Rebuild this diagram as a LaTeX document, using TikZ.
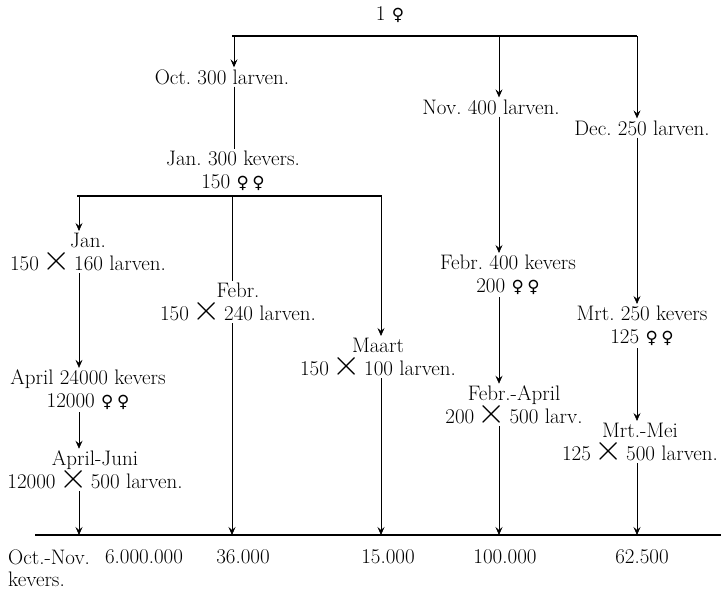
\documentclass[tikz,border=0pt]{standalone}
\usepackage{fontspec}
\newfontfamily\symfont{DejaVu Sans}
\usetikzlibrary{arrows.meta, positioning}
\frenchspacing
\newcommand{\fem}{{\symfont\scalebox{0.8}{♀}}}
\newcommand{\maal}{\,\smash{\scalebox{1.75}{$\times$}}\,}
\tikzset{
x=1pt, y=-1pt, % pixel-like coordinates, y runs downward
>={Stealth[length=8pt,width=7pt,inset=3pt]}, % small barbed heads
lbl/.style={align=center, inner sep=2pt, font=\fontsize{21}{23}\selectfont}, % every text
bar/.style={line width=1.8pt}, % the thick horizontal lines
stem/.style={->, line width=0.6pt}, % thin vertical arrows
plain/.style={line width=0.6pt}, % thin vertical lines without head
}
\begin{document}
\begin{tikzpicture}
    \useasboundingbox (0,0) rectangle (721,592);

    % horizontal bars
    \coordinate (t0) at (232,36);  \coordinate (t1) at (637,36);
    \coordinate (m0) at (77,196);  \coordinate (m1) at (382,196);
    \coordinate (b0) at (35,535);  \coordinate (b1) at (721,535);
    \draw[bar] (t0) -- (t1);
    \draw[bar] (m0) -- (m1);
    \draw[bar] (b0) -- (b1);

    % columns
    \coordinate (ca) at (234,0);
    \coordinate (cb) at (499,0);
    \coordinate (cc) at (637,0);
    \coordinate (cd) at (79,0);
    \coordinate (ce) at (232,0);
    \coordinate (cf) at (381,0);

    \node[lbl] (one) at (390,15) {1 \fem};
    \node[lbl] (oct) at (222,77) {Oct. 300 larven.};
    \node[lbl] (nov) at (491,107) {Nov. 400 larven.};
    \node[lbl] (dec) at (642,128) {Dec. 250 larven.};
    \node[lbl] (jan) at (233,171) {Jan. 300 kevers.\\150 \fem\,\fem};

    \node[lbl] (janl) at (88,252) {Jan.\\150\maal 160 larven.};
    \node[lbl] (apr) at (88,390) {April 24000 kevers\\12000 \fem\,\fem};
    \node[lbl] (aj) at (95,470) {April-Juni\\12000\maal 500 larven.};
    \node[lbl] (feb) at (238,302) {Febr.\\150\maal 240 larven.};
    \node[lbl] (maart) at (378,357) {Maart\\150\maal 100 larven.};
    \node[lbl] (fk) at (508,275) {Febr. 400 kevers\\200 \fem\,\fem};
    \node[lbl] (fa) at (514,405) {Febr.-April\\200\maal 500 larv.};
    \node[lbl] (mk) at (642,326) {Mrt. 250 kevers\\125 \fem\,\fem};
    \node[lbl] (mm) at (640,442) {Mrt.-Mei\\125\maal 500 larven.};

    \node[lbl, anchor=west] (ocnov) at (6,557) {Oct.-Nov.};
    \node[lbl, anchor=west] (kev) at (6,579) {kevers.};
    \node[lbl] (sa) at (144,557) {6.000.000};
    \node[lbl] (sb) at (243,557) {36.000};
    \node[lbl] (sc) at (388,557) {15.000};
    \node[lbl] (sd) at (505,557) {100.000};
    \node[lbl] (se) at (642,557) {62.500};

    % first generation
    \draw[stem] (ca |- t0) -- (ca |- oct.north);
    \draw[plain] (ca |- oct.south) -- (ca |- jan.north);
    \draw[stem] (cb |- t0) -- (cb |- nov.north);
    \draw[stem] (cb |- nov.south) -- (cb |- fk.north);
    \draw[stem] (cb |- fk.south) -- (cb |- fa.north);
    \draw[stem] (cb |- fa.south) -- (cb |- b0);
    \draw[stem] (cc |- t0) -- (cc |- dec.north);
    \draw[stem] (cc |- dec.south) -- (cc |- mk.north);
    \draw[stem] (cc |- mk.south) -- (cc |- mm.north);
    \draw[stem] (cc |- mm.south) -- (cc |- b0);

    % second generation
    \draw[stem] (cd |- m0) -- (cd |- janl.north);
    \draw[stem] (cd |- janl.south) -- (cd |- apr.north);
    \draw[stem] (cd |- apr.south) -- (cd |- aj.north);
    \draw[stem] (cd |- aj.south) -- (cd |- b0);
    \draw[plain] (ce |- m0) -- (ce |- feb.north);
    \draw[stem] (ce |- feb.south) -- (ce |- b0);
    \draw[stem] (cf |- m0) -- (cf |- maart.north);
    \draw[stem] (cf |- maart.south) -- (cf |- b0);
\end{tikzpicture}
\end{document}
